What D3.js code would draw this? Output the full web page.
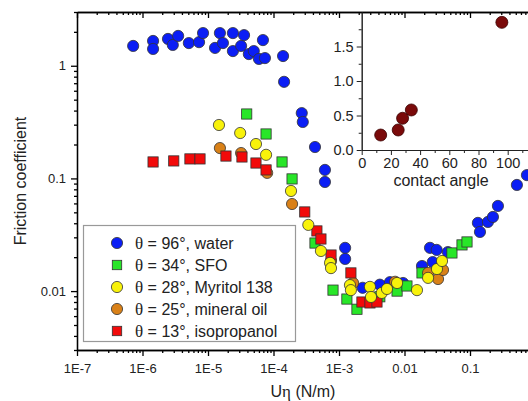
<!DOCTYPE html>
<html>
<head>
<meta charset="utf-8">
<style>
  body { margin: 0; background: #fff; }
  svg { display: block; font-family: "Liberation Sans", Arial, sans-serif; }
  .axis path, .axis line { stroke: #000; stroke-width: 1.3; }
  .inset path, .inset line { stroke: #222; stroke-width: 1; }
</style>
</head>
<body>
<svg id="chart" width="528" height="401"></svg>
<script src="https://d3js.org/d3.v7.min.js"></script>
<script>
// data: [U_eta (N/m), friction coefficient]
var water = [[7.2e-7,1.50],[1.45e-6,1.66],[1.45e-6,1.41],[2.45e-6,1.73],[2.9e-6,1.53],[3.5e-6,1.84],
  [5.1e-6,1.59],[7.3e-6,1.62],[8.4e-6,1.95],[1.28e-5,1.44],[1.52e-5,1.95],[1.69e-5,1.59],[2.4e-5,1.95],
  [2.4e-5,1.35],[3.2e-5,1.50],[3.55e-5,1.87],[4.2e-5,1.27],[5.0e-5,1.35],[6.0e-5,1.15],[6.9e-5,1.69],
  [7.4e-5,1.17],[1.40e-4,1.22],[1.45e-4,0.72],[2.7e-4,0.38],[2.8e-4,0.317],[4.3e-4,0.19],[6.1e-4,0.119],
  [6.1e-4,0.093],[1.24e-3,0.0242],[1.24e-3,0.0193],[2.3e-3,0.0107],[4.2e-3,0.0114],[6.0e-3,0.012],
  [9.5e-3,0.0118],[0.0185,0.0167],[0.0245,0.0242],[0.031,0.0232],[0.027,0.0181],[0.046,0.0222],
  [0.132,0.0403],[0.142,0.0335],[0.188,0.0411],[0.224,0.0455],[0.267,0.057],[0.52,0.0875],[0.74,0.107]];
var sfo = [[3.9e-5,0.373],[7.7e-5,0.248],[1.35e-4,0.140],[1.92e-4,0.099],[4.3e-4,0.0267],[8.1e-4,0.0102],
  [1.32e-3,0.0085],[1.88e-3,0.0069],[4.2e-3,0.0089],[7.7e-3,0.010],[0.0109,0.0111],[0.0185,0.0145],
  [0.053,0.0218],[0.0755,0.0257],[0.090,0.0273]];
var mineralOil = [[1.52e-5,0.186],[3.2e-5,0.168],[8.0e-5,0.112],[1.92e-4,0.0593],[7.55e-4,0.0185],
  [1.64e-3,0.0118],[7.2e-3,0.0121],[0.0229,0.0145],[0.0325,0.0128],[0.0387,0.0154]];
var isopropanol = [[1.45e-6,0.140],[3.0e-6,0.143],[5.3e-6,0.149],[7.55e-6,0.149],[1.88e-5,0.158],
  [3.3e-5,0.155],[5.4e-5,0.137],[7.7e-5,0.119],[3.0e-4,0.0504],[4.6e-4,0.0342],[5.3e-4,0.029],
  [7.55e-4,0.0209],[1.52e-3,0.0145],[2.24e-3,0.0080],[2.97e-3,0.00785],[3.8e-3,0.0080]];
var myritol = [[1.47e-5,0.298],[3.1e-5,0.253],[5.4e-5,0.202],[7.7e-5,0.162],[1.85e-4,0.0774],
  [3.4e-4,0.0387],[5.3e-4,0.0227],[7.3e-4,0.0178],[7.55e-4,0.016],[1.47e-3,0.0113],[1.52e-3,0.0102],
  [2.97e-3,0.0109],[3.08e-3,0.00887],[4.5e-3,0.00963],[5.4e-3,0.01045],[7.7e-3,0.0118],[0.0155,0.0102],
  [0.0229,0.0131],[0.0313,0.0157],[0.0374,0.0185]];

// inset: contact angle vs friction
var contactAngle = [13, 25, 28, 34, 96];
var insetFriction = [0.217, 0.29, 0.46, 0.58, 1.85];

var legendLabels = ["96°, water", "34°, SFO", "28°, Myritol 138", "25°, mineral oil", "13°, isopropanol"];
var xMajor = [1e-7,1e-6,1e-5,1e-4,1e-3,0.01,0.1,1];
var yMajor = [0.01,0.1,1];

var svg = d3.select("#chart");
var pLeft = 77, pRight = 535.5, pTop = 12, pBottom = 350;

var x = d3.scaleLog().domain([1e-7, 1]).range([pLeft, pRight]);
var y = d3.scaleLog().domain([0.003, 3]).range([pBottom, pTop]);

function minors(lo, hi) {
  var out = [];
  for (var e = Math.floor(Math.log10(lo)); e <= Math.ceil(Math.log10(hi)); e++) {
    for (var m = 2; m <= 9; m++) {
      var v = m * Math.pow(10, e);
      if (v >= lo * 0.999 && v <= hi * 1.001) out.push(+v.toPrecision(3));
    }
  }
  return out;
}
function xfmt(d) {
  var e = Math.round(Math.log10(d));
  if (e >= 0) return "";   // cut off by the picture edge
  return e <= -3 ? "1E" + e : String(+d.toPrecision(1));
}

// minor ticks first, majors on top
function drawAxis(axis, tf) {
  var g = svg.append("g").attr("class", "axis").attr("transform", tf).call(axis);
  g.selectAll("text").attr("font-size", 13).attr("fill", "#222");
  return g;
}
drawAxis(d3.axisBottom(x).tickValues(minors(1e-7, 1)).tickSize(3).tickSizeOuter(0).tickFormat(""), "translate(0," + pBottom + ")");
drawAxis(d3.axisBottom(x).tickValues(xMajor).tickSize(6).tickSizeOuter(0).tickFormat(xfmt).tickPadding(8), "translate(0," + pBottom + ")");
drawAxis(d3.axisTop(x).tickValues(minors(1e-7, 1)).tickSize(-3).tickSizeOuter(0).tickFormat(""), "translate(0," + pTop + ")");
drawAxis(d3.axisTop(x).tickValues(xMajor).tickSize(-6).tickSizeOuter(0).tickFormat(""), "translate(0," + pTop + ")");
drawAxis(d3.axisLeft(y).tickValues(minors(0.003, 3)).tickSize(3).tickSizeOuter(0).tickFormat(""), "translate(" + pLeft + ",0)");
drawAxis(d3.axisLeft(y).tickValues(yMajor).tickSize(6).tickSizeOuter(0).tickFormat(function(d){ return String(d); }).tickPadding(5), "translate(" + pLeft + ",0)");
drawAxis(d3.axisRight(y).tickValues(minors(0.003, 3)).tickSize(-3).tickSizeOuter(0).tickFormat(""), "translate(" + pRight + ",0)");
drawAxis(d3.axisRight(y).tickValues(yMajor).tickSize(-6).tickSizeOuter(0).tickFormat(""), "translate(" + pRight + ",0)");

// axis titles
svg.append("text").attr("transform", "translate(26," + (pTop + pBottom) / 2 + ") rotate(-90)")
  .attr("text-anchor", "middle").attr("font-size", 16).attr("fill", "#222").text("Friction coefficient");
var xt = svg.append("text").attr("x", 303).attr("y", 397).attr("text-anchor", "middle")
  .attr("font-size", 16).attr("fill", "#222");
xt.append("tspan").text("U");
xt.append("tspan").attr("font-family", "Liberation Serif, serif").attr("font-size", 17).text("η");
xt.append("tspan").text(" (N/m)");

// inset
var xi = d3.scaleLinear().domain([0, 120]).range([361.7, 361.7 + 175.2]);
var yi = d3.scaleLinear().domain([0, 2]).range([150, pTop]);
var ins = svg.append("g");
ins.append("g").attr("class", "inset").attr("transform", "translate(0,150)")
  .call(d3.axisBottom(xi).tickValues(d3.range(10, 121, 20)).tickSize(3).tickSizeOuter(0).tickFormat(""));
var ixa = ins.append("g").attr("class", "inset").attr("transform", "translate(0,150)")
  .call(d3.axisBottom(xi).tickValues(d3.range(0, 121, 20)).tickSize(5).tickSizeOuter(0).tickPadding(3)
    .tickFormat(function(d){ return d > 100 ? "" : d; }));
ixa.selectAll("text").attr("font-size", 14.5).attr("fill", "#222");
ins.append("g").attr("class", "inset").attr("transform", "translate(361.7,0)")
  .call(d3.axisLeft(yi).tickValues([0.25, 0.75, 1.25, 1.75]).tickSize(3).tickSizeOuter(0).tickFormat(""));
var iya = ins.append("g").attr("class", "inset").attr("transform", "translate(361.7,0)")
  .call(d3.axisLeft(yi).tickValues([0, 0.5, 1, 1.5]).tickSize(5).tickSizeOuter(0).tickFormat(d3.format(".1f")).tickPadding(3));
iya.selectAll("text").attr("font-size", 14.5).attr("fill", "#222");
ins.append("text").attr("x", 441).attr("y", 186).attr("text-anchor", "middle")
  .attr("font-size", 16).attr("fill", "#222").text("contact angle");
ins.selectAll("circle").data(contactAngle).enter().append("circle")
  .attr("cx", function(d){ return xi(d); })
  .attr("cy", function(d, i){ return yi(insetFriction[i]); })
  .attr("r", 6).attr("fill", "#7a0a0a").attr("stroke", "#3a0000").attr("stroke-width", 0.8);

// series
var series = [
  {data: water, color: "#0b1ef5", shape: "circle"},
  {data: sfo, color: "#28e628", shape: "square"},
  {data: mineralOil, color: "#d98118", shape: "circle"},
  {data: isopropanol, color: "#f20a0a", shape: "square"},
  {data: myritol, color: "#f8f20a", shape: "circle"}
];
var legendOrder = [0, 1, 4, 2, 3];

function drawMark(g, shape, color, cx, cy, r) {
  if (shape === "circle") {
    g.append("circle").attr("cx", cx).attr("cy", cy).attr("r", r)
      .attr("fill", color).attr("stroke", "#333").attr("stroke-width", 0.8);
  } else {
    g.append("rect").attr("x", cx - r + 0.5).attr("y", cy - r + 0.5)
      .attr("width", 2 * r - 1).attr("height", 2 * r - 1)
      .attr("fill", color).attr("stroke", "#333").attr("stroke-width", 0.8);
  }
}
var marks = svg.append("g");
series.forEach(function(s) {
  s.data.forEach(function(p) { drawMark(marks, s.shape, s.color, x(p[0]), y(p[1]), 5.6); });
});

// legend
var lg = svg.append("g");
lg.append("rect").attr("x", 83.5).attr("y", 225.5).attr("width", 212).attr("height", 116)
  .attr("fill", "#fff").attr("stroke", "#999").attr("stroke-width", 1.2);
legendOrder.forEach(function(si, i) {
  var s = series[si], cy = 243 + i * 22;
  drawMark(lg, s.shape, s.color, 117, cy, s.shape === "circle" ? 5.6 : 5.2);
  var t = lg.append("text").attr("x", 135).attr("y", cy + 6).attr("font-size", 16).attr("fill", "#222");
  t.append("tspan").attr("font-family", "Liberation Serif, serif").attr("font-size", 17).text("θ");
  t.append("tspan").text(" = " + legendLabels[i]);
});
</script>
</body>
</html>
